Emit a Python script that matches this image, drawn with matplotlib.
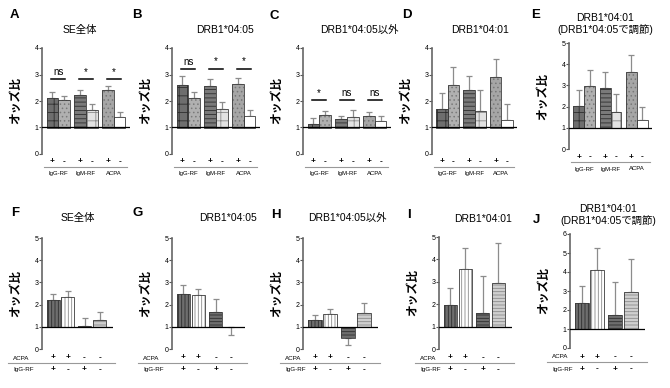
import numpy as np
import matplotlib
matplotlib.use("Agg")
import matplotlib.pyplot as plt
import matplotlib.transforms as mtransforms
from matplotlib.lines import Line2D

plt.rcParams['font.family'] = ['Liberation Sans', 'Noto Sans CJK JP']
plt.rcParams['hatch.linewidth'] = 0.6

W, H = 670, 388

# top row: IgG-RF +/-, IgM-RF +/-, ACPA +/-
top_groups = ['IgG-RF', 'IgM-RF', 'ACPA']
top_signs = ['+', '-', '+', '-', '+', '-']
or_A = [2.10, 2.02, 2.22, 1.66, 2.41, 1.38]
ci_A = [2.33, 2.20, 2.40, 1.90, 2.58, 1.57]
or_B = [2.61, 2.10, 2.57, 1.69, 2.65, 1.42]
ci_B = [2.93, 2.33, 2.82, 1.97, 2.87, 1.65]
or_C = [1.13, 1.47, 1.32, 1.39, 1.42, 1.23]
ci_C = [1.34, 1.63, 1.45, 1.65, 1.60, 1.45]
or_D = [1.69, 2.61, 2.40, 1.62, 2.90, 1.30]
ci_D = [2.32, 3.27, 2.95, 2.41, 3.58, 1.90]
or_E = [2.03, 2.95, 2.90, 1.74, 3.61, 1.35]
ci_E = [2.79, 3.71, 3.61, 2.58, 4.45, 2.00]
sig_A = ['ns', '*', '*']
sig_B = ['ns', '*', '*']
sig_C = ['*', 'ns', 'ns']
sig_y = {'A': 2.83, 'B': 3.22, 'C': 2.03}

# bottom row: ACPA / IgG-RF combinations
bot_acpa = ['+', '+', '-', '-']
bot_igg = ['+', '-', '+', '-']
or_F = [2.19, 2.34, 1.05, 1.32]
ci_F = [2.49, 2.61, 1.41, 1.66]
or_G = [2.50, 2.43, 1.66, 0.97]
ci_G = [2.87, 2.72, 2.24, 0.65]
or_H = [1.29, 1.57, 0.48, 1.60]
ci_H = [1.53, 1.79, 0.17, 2.08]
or_I = [1.96, 3.55, 1.60, 2.94]
ci_I = [2.71, 4.50, 3.26, 4.73]
or_J = [2.36, 4.10, 1.72, 2.94]
ci_J = [3.27, 5.26, 3.45, 4.70]

t_se = 'SE全体'
t_0405 = 'DRB1*04:05'
t_not = 'DRB1*04:05以外'
t_0401 = 'DRB1*04:01'
t_adj = 'DRB1*04:01\n(DRB1*04:05で調節)'

top_styles = [('#6e6e6e', '#2e2e2e', '++'), ('#b0b0b0', '#7a7a7a', '....'),
              ('#7a7a7a', '#2e2e2e', '----'), ('#e2e2e2', '#8a8a8a', '++'),
              ('#a6a6a6', '#787878', '....'), ('#ffffff', '#d0d0d0', '')]
bot_styles = [('#6e6e6e', '#2e2e2e', '|||||'), ('#ffffff', '#8a8a8a', '|||||'),
              ('#6e6e6e', '#2e2e2e', '-----'), ('#cfcfcf', '#8a8a8a', '-----')]

fig = plt.figure(figsize=(W / 100, H / 100), dpi=100)


def make_ax(x0, x1, ytop, ybot):
    return fig.add_axes([x0 / W, 1 - ybot / H, (x1 - x0) / W, (ybot - ytop) / H])


def ftext(x, y, s, **kw):
    fig.text(x / W, 1 - y / H, s, **kw)


def draw_panel(box, vals, cis, pos, width, styles, ymax):
    x0, x1, ytop, ybot = box
    ax = make_ax(x0, x1, ytop, ybot)
    vals = np.array(vals)
    cis = np.array(cis)
    up = np.where(cis > vals, cis - vals, 0)
    lo = np.where(cis < vals, vals - cis, 0)
    ax.errorbar(pos, vals, yerr=[lo, up], fmt='none', ecolor='#8c8c8c',
                elinewidth=0.9, capsize=2.4, capthick=0.9, zorder=1)
    for p, v, (fc, hc, ht) in zip(pos, vals, styles):
        ax.bar(p, v - 1, bottom=1, width=width, color=fc, edgecolor=hc,
               hatch=ht, linewidth=0, zorder=2)
        ax.bar(p, v - 1, bottom=1, width=width, fill=False,
               edgecolor='#3a3a3a', linewidth=0.6, zorder=3)
    ax.axhline(1, color='black', lw=0.9, zorder=4)
    ax.set_ylim(0, ymax)
    ax.set_yticks(range(0, ymax + 1))
    ax.tick_params(axis='y', length=2, width=0.8, color='#555555',
                   labelsize=5, pad=0.5)
    ax.set_xticks([])
    for s in ['top', 'right', 'bottom']:
        ax.spines[s].set_visible(False)
    ax.spines['left'].set_color('#666666')
    ax.spines['left'].set_linewidth(1.2)
    ax.set_ylabel('オッズ比', fontsize=8.5, fontweight='bold')
    ax.yaxis.set_label_coords(-20 / (x1 - x0), 0.5)
    return ax


# ---- top row ----
top_pos = np.array([0, 1, 2.4, 3.4, 4.8, 5.8])
top_boxes = {'A': (42, 130, 48, 154), 'B': (172, 260, 48, 154),
             'C': (303, 391, 48, 154), 'D': (432, 517, 48, 154),
             'E': (569, 652, 43, 149)}
top_data = {'A': (or_A, ci_A, 4), 'B': (or_B, ci_B, 4), 'C': (or_C, ci_C, 4),
            'D': (or_D, ci_D, 4), 'E': (or_E, ci_E, 5)}
top_sig = {'A': sig_A, 'B': sig_B, 'C': sig_C}

for key, box in top_boxes.items():
    vals, cis, ymax = top_data[key]
    ax = draw_panel(box, vals, cis, top_pos, 1.0, top_styles, ymax)
    ax.set_xlim(-0.9, 6.7)
    h = box[3] - box[2]
    tr = mtransforms.blended_transform_factory(ax.transData, ax.transAxes)
    for p, s in zip(top_pos, top_signs):
        ax.text(p, -8 / h, s, transform=tr, ha='center', va='center',
                fontsize=6, fontweight='bold')
    ax.add_line(Line2D([0.02, 0.97], [-13 / h, -13 / h], transform=ax.transAxes,
                       color='#999999', lw=0.8, clip_on=False))
    for i, g in enumerate(top_groups):
        ax.text(top_pos[2 * i] + 0.5, -20 / h, g, transform=tr, ha='center',
                va='center', fontsize=4.3)
    if key in top_sig:
        y = sig_y[key]
        for i, s in enumerate(top_sig[key]):
            c = top_pos[2 * i] + 0.5
            ax.plot([c - 0.6, c + 0.6], [y, y], color='black', lw=1.1)
            ax.text(c, y + 0.08, s, ha='center', va='bottom', fontsize=7)

# ---- bottom row ----
bot_pos = np.array([0, 1, 2.15, 3.2])
bot_boxes = {'F': (42, 113, 238, 349), 'G': (172, 245, 238, 349),
             'H': (303, 378, 238, 349), 'I': (439, 512, 237, 349),
             'J': (570, 645, 234, 348)}
bot_data = {'F': (or_F, ci_F, 5), 'G': (or_G, ci_G, 5), 'H': (or_H, ci_H, 5),
            'I': (or_I, ci_I, 5), 'J': (or_J, ci_J, 6)}
row_lab_x = {'F': 13, 'G': 143, 'H': 285, 'I': 420, 'J': 552}

for key, box in bot_boxes.items():
    vals, cis, ymax = bot_data[key]
    ax = draw_panel(box, vals, cis, bot_pos, 0.88, bot_styles, ymax)
    ax.set_xlim(-0.76, 4.1)
    h = box[3] - box[2]
    tr = mtransforms.blended_transform_factory(ax.transData, ax.transAxes)
    for p, a, g in zip(bot_pos, bot_acpa, bot_igg):
        ax.text(p, -9 / h, a, transform=tr, ha='center', va='center',
                fontsize=6, fontweight='bold')
        ax.text(p, -21 / h, g, transform=tr, ha='center', va='center',
                fontsize=6, fontweight='bold')
    lx = row_lab_x[key]
    ftext(lx, box[3] + 9, 'ACPA', ha='left', va='center', fontsize=4.5)
    ftext(lx, box[3] + 21, 'IgG-RF', ha='left', va='center', fontsize=4.5)
    fig.add_artist(Line2D([(lx - 5) / W, (box[1] + 2) / W],
                          [1 - (box[3] + 14) / H] * 2, color='#999999', lw=0.8))

# titles and panel letters
titles = [(80, 30, t_se), (225, 30, t_0405), (359, 30, t_not), (480, 30, t_0401),
          (605, 24, t_adj), (78, 218, t_se), (228, 218, t_0405), (347, 218, t_not),
          (483, 219, t_0401), (608, 215, t_adj)]
for x, y, s in titles:
    ftext(x, y, s, ha='center', va='center', fontsize=7.5, linespacing=1.1)

letters = [('A', 14, 15), ('B', 137, 15), ('C', 274, 16), ('D', 407, 15),
           ('E', 536, 15), ('F', 15, 213), ('G', 138, 213), ('H', 276, 215),
           ('I', 409, 215), ('J', 536, 220)]
for s, x, y in letters:
    ftext(x, y, s, ha='center', va='center', fontsize=9.5, fontweight='bold')

fig.savefig('out.png', dpi=100)
